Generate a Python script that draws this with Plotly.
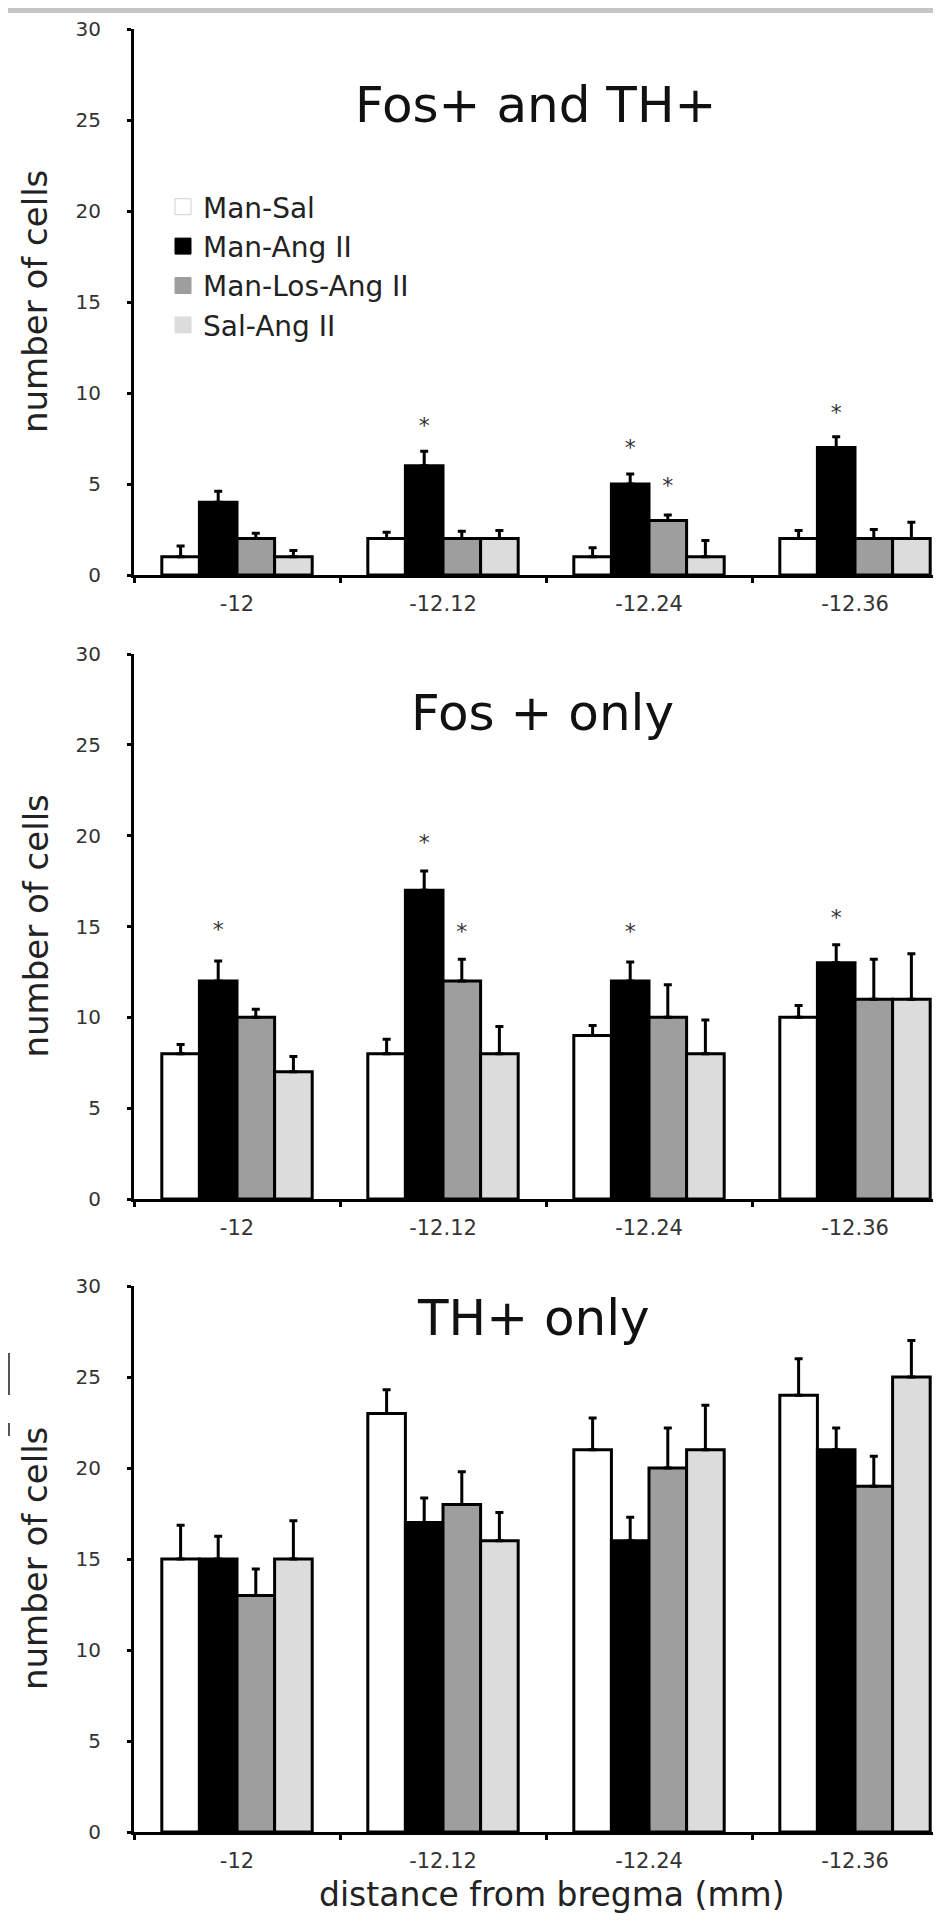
import plotly.graph_objects as go

# ---------------- data ----------------
categories = ["-12", "-12.12", "-12.24", "-12.36"]
series_names = ["Man-Sal", "Man-Ang II", "Man-Los-Ang II", "Sal-Ang II"]
series_colors = ["#ffffff", "#000000", "#9e9e9e", "#dcdcdc"]

panel_titles = ["Fos+ and TH+", "Fos + only", "TH+ only"]

# Panel 1: Fos+ and TH+
p1_man_sal = [1, 2, 1, 2]
p1_man_sal_err = [0.6, 0.35, 0.5, 0.45]
p1_man_ang = [4, 6, 5, 7]
p1_man_ang_err = [0.6, 0.8, 0.55, 0.6]
p1_man_los = [2, 2, 3, 2]
p1_man_los_err = [0.3, 0.4, 0.3, 0.5]
p1_sal_ang = [1, 2, 1, 2]
p1_sal_ang_err = [0.35, 0.45, 0.9, 0.9]
p1_star_man_ang = [None, 8.1, 6.9, 8.8]
p1_star_man_los = [None, None, 4.8, None]

# Panel 2: Fos + only
p2_man_sal = [8, 8, 9, 10]
p2_man_sal_err = [0.5, 0.8, 0.55, 0.65]
p2_man_ang = [12, 17, 12, 13]
p2_man_ang_err = [1.1, 1.05, 1.05, 1.0]
p2_man_los = [10, 12, 10, 11]
p2_man_los_err = [0.45, 1.2, 1.8, 2.2]
p2_sal_ang = [7, 8, 8, 11]
p2_sal_ang_err = [0.85, 1.5, 1.85, 2.5]
p2_star_man_ang = [14.7, 19.5, 14.6, 15.4]
p2_star_man_los = [None, 14.6, None, None]

# Panel 3: TH+ only
p3_man_sal = [15, 23, 21, 24]
p3_man_sal_err = [1.85, 1.3, 1.75, 2.0]
p3_man_ang = [15, 17, 16, 21]
p3_man_ang_err = [1.25, 1.35, 1.3, 1.2]
p3_man_los = [13, 18, 20, 19]
p3_man_los_err = [1.45, 1.8, 2.2, 1.65]
p3_sal_ang = [15, 16, 21, 25]
p3_sal_ang_err = [2.1, 1.55, 2.45, 2.0]

y_ticks = [0, 5, 10, 15, 20, 25, 30]
y_title = "number of cells"
x_title = "distance from bregma (mm)"

panels = [
    dict(vals=[p1_man_sal, p1_man_ang, p1_man_los, p1_sal_ang],
         errs=[p1_man_sal_err, p1_man_ang_err, p1_man_los_err, p1_sal_ang_err],
         stars=[None, p1_star_man_ang, p1_star_man_los, None]),
    dict(vals=[p2_man_sal, p2_man_ang, p2_man_los, p2_sal_ang],
         errs=[p2_man_sal_err, p2_man_ang_err, p2_man_los_err, p2_sal_ang_err],
         stars=[None, p2_star_man_ang, p2_star_man_los, None]),
    dict(vals=[p3_man_sal, p3_man_ang, p3_man_los, p3_sal_ang],
         errs=[p3_man_sal_err, p3_man_ang_err, p3_man_los_err, p3_sal_ang_err],
         stars=None),
]

# ---------------- layout geometry ----------------
W, H = 941, 1923
ML = 126
PW = W - ML
panel_px = [(21, 567), (646, 1191), (1278, 1824)]
title_px = [(527, 97), (534, 705), (525, 1310)]
FONT = "DejaVu Sans"

fig = go.Figure()

for pi, p in enumerate(panels):
    ax = "" if pi == 0 else str(pi + 1)
    for si in range(4):
        fig.add_trace(go.Bar(
            x=categories, y=p["vals"][si], name=series_names[si],
            xaxis="x" + ax, yaxis="y" + ax,
            marker=dict(color=series_colors[si], line=dict(color="black", width=3)),
            error_y=dict(type="data", array=p["errs"][si], arrayminus=[0] * 4,
                         symmetric=False, color="black", thickness=3, width=4),
            showlegend=False,
        ))
    if p["stars"] is not None:
        for si in range(4):
            st = p["stars"][si]
            if st is None:
                yv, tx = [0, 0, 0, 0], [""] * 4
            else:
                yv = st
                tx = ["*" if v is not None else "" for v in st]
            fig.add_trace(go.Scatter(
                x=categories, y=yv, mode="text", text=tx,
                textposition="middle center",
                textfont=dict(family=FONT, size=22, color="#333333"),
                xaxis="x" + ax, yaxis="y" + ax, showlegend=False,
                hoverinfo="skip", cliponaxis=False,
            ))

# legend-only traces on a hidden axis
for si in range(4):
    fig.add_trace(go.Scatter(
        x=[None], y=[None], mode="markers", name=series_names[si],
        marker=dict(symbol="square", size=17, color=series_colors[si],
                    line=dict(color="#d0d0d0" if si == 0 else series_colors[si], width=1)),
        xaxis="x4", yaxis="y4", showlegend=True,
    ))

x_range = [-0.5, -0.5 + PW / 206.0]

layout = dict(
    width=W, height=H,
    margin=dict(l=ML, r=0, t=0, b=0),
    paper_bgcolor="white", plot_bgcolor="white",
    barmode="group", bargap=0.27, bargroupgap=0,
    scattermode="group", scattergap=0.27,
    font=dict(family=FONT, color="#222222"),
    legend=dict(x=(155 - ML) / PW, xanchor="left", y=1 - 174 / H, yanchor="top",
                font=dict(family=FONT, size=28, color="#222222"),
                bgcolor="rgba(0,0,0,0)", itemwidth=30, tracegroupgap=0),
    xaxis4=dict(visible=False, domain=[0, 0.01], anchor="y4"),
    yaxis4=dict(visible=False, domain=[0, 0.01], anchor="x4"),
)

annotations = []
for pi in range(3):
    ax = "" if pi == 0 else str(pi + 1)
    top, bot = panel_px[pi]
    dom = [1 - bot / H, 1 - top / H]
    layout["xaxis" + ax] = dict(
        domain=[0, 1], anchor="y" + ax, type="category",
        categoryorder="array", categoryarray=categories,
        range=x_range, showline=True, linecolor="black", linewidth=3,
        ticks="outside", tickson="boundaries", ticklen=5, tickwidth=3, tickcolor="black",
        tickfont=dict(family=FONT, size=21, color="#333333"),
        ticklabelstandoff=8,
        showgrid=False, zeroline=False, fixedrange=True, automargin=False,
    )
    layout["yaxis" + ax] = dict(
        domain=dom, anchor="x" + ax, range=[0, 30], tickvals=y_ticks,
        showline=True, linecolor="black", linewidth=3,
        ticks="outside", ticklen=4, tickwidth=3, tickcolor="black",
        tickfont=dict(family=FONT, size=20, color="#333333"),
        ticklabelstandoff=22,
        showgrid=False, zeroline=False, fixedrange=True, automargin=False,
    )
    tx, ty = title_px[pi]
    annotations.append(dict(
        text=panel_titles[pi], x=(tx - ML) / PW, y=1 - ty / H, xref="paper", yref="paper",
        xanchor="center", yanchor="middle", showarrow=False,
        font=dict(family=FONT, size=50, color="#111111"),
    ))
    annotations.append(dict(
        text=y_title, x=(27 - ML) / PW, y=1 - (top + bot) / 2 / H, xref="paper", yref="paper",
        xanchor="center", yanchor="middle", textangle=-90, showarrow=False,
        font=dict(family=FONT, size=34, color="#222222"),
    ))

annotations.append(dict(
    text=x_title, x=(544 - ML) / PW, y=1 - 1886 / H, xref="paper", yref="paper",
    xanchor="center", yanchor="middle", showarrow=False,
    font=dict(family=FONT, size=33, color="#222222"),
))
layout["annotations"] = annotations

layout["shapes"] = [
    dict(type="rect", xref="paper", yref="paper", x0=-ML / PW, x1=1, y0=1 - 5 / H, y1=1,
         fillcolor="#c6c6c6", line=dict(width=0), layer="above"),
    dict(type="line", xref="paper", yref="paper", x0=(1 - ML) / PW, x1=(1 - ML) / PW,
         y0=1 - 1387 / H, y1=1 - 1345 / H, line=dict(color="#555555", width=2)),
    dict(type="line", xref="paper", yref="paper", x0=(1 - ML) / PW, x1=(1 - ML) / PW,
         y0=1 - 1428 / H, y1=1 - 1415 / H, line=dict(color="#555555", width=2)),
]

fig.update_layout(**layout)
fig.write_html("out.html")
